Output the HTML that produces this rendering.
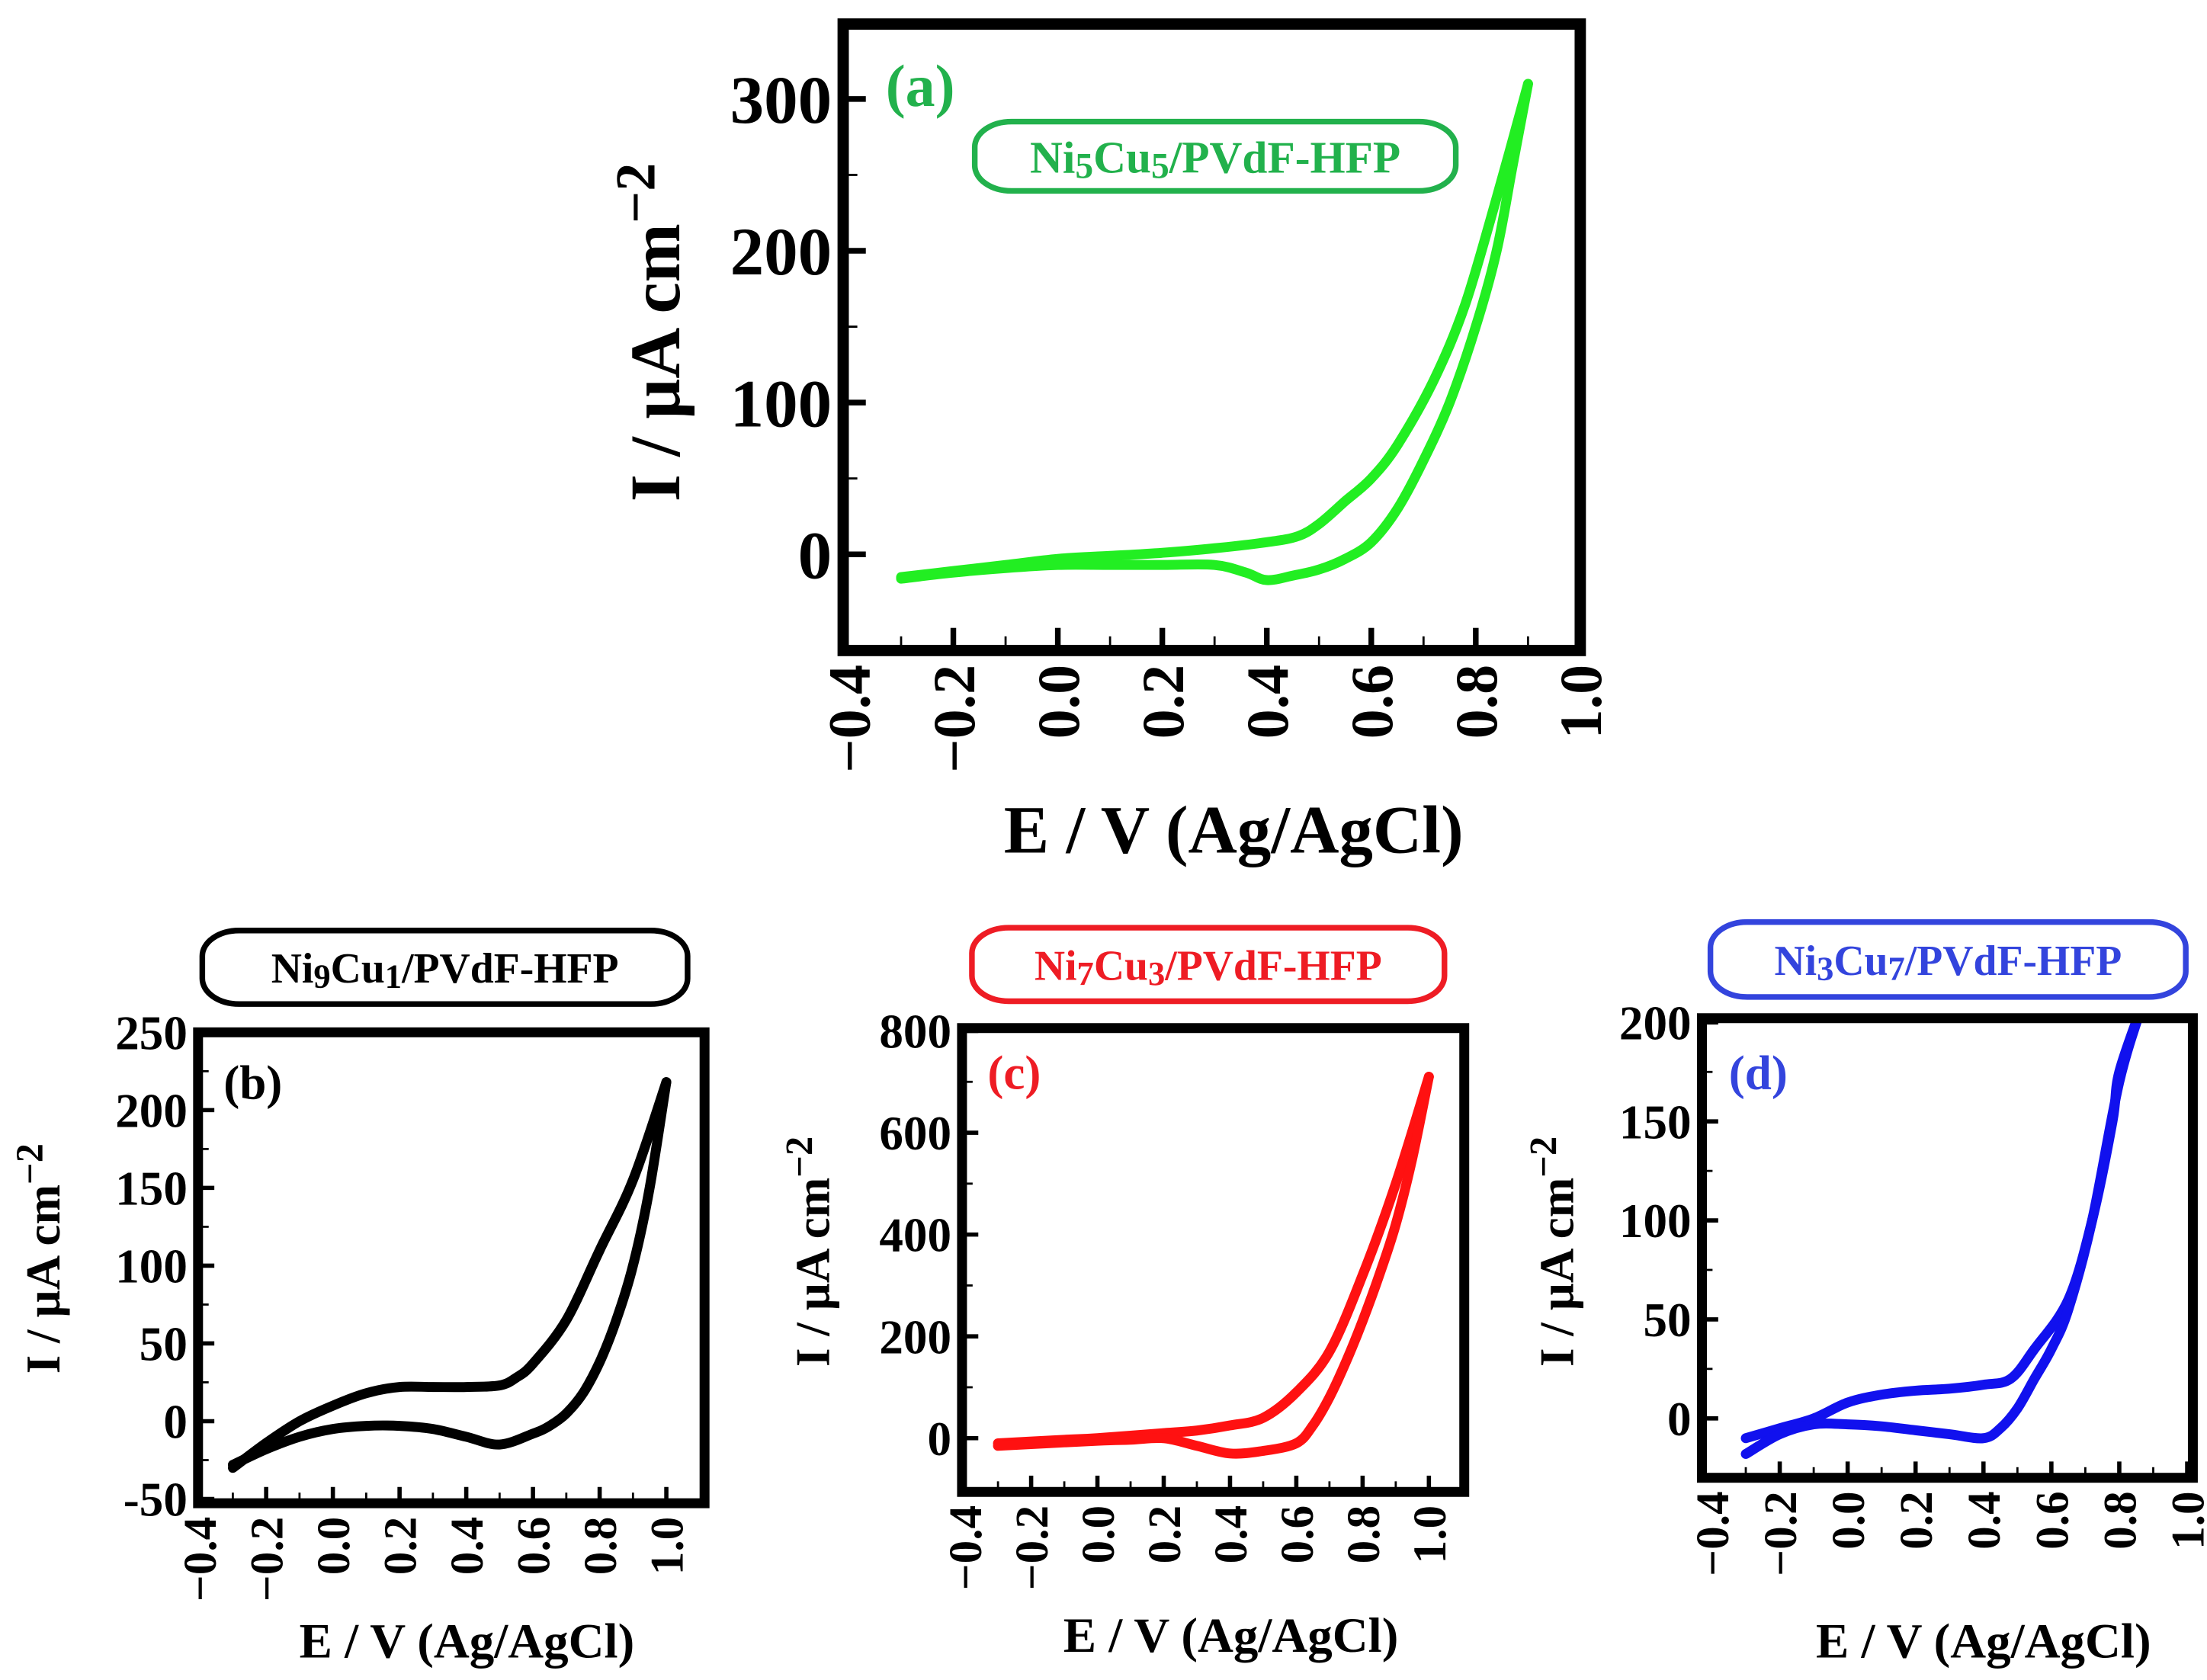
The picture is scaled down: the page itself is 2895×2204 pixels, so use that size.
<!DOCTYPE html>
<html><head><meta charset="utf-8"><style>
html,body{margin:0;padding:0;background:#fff;}
svg{display:block;font-family:"Liberation Serif",serif;font-weight:bold;}
</style></head><body>
<svg id="fig" width="2895" height="2204" viewBox="0 0 1560 1188" preserveAspectRatio="none" xmlns="http://www.w3.org/2000/svg"></svg>
<script>
// x tick values (shared)
const xTicks = [-0.4,-0.2,0.0,0.2,0.4,0.6,0.8,1.0];
const xTickLabels = ["−0.4","−0.2","0.0","0.2","0.4","0.6","0.8","1.0"];
// Panel a
const aYTicks = [0,100,200,300];
const aFwdE = [-0.3,-0.2,-0.1,0,0.1,0.2,0.3,0.4,0.46,0.5,0.55,0.6,0.65,0.72,0.78,0.84,0.9];
const aFwdI = [-15,-11,-7,-3,-1,1,4,8,12,20,35,50,72,115,165,235,310];
const aRevE = [0.9,0.87,0.84,0.8,0.75,0.7,0.65,0.6,0.55,0.5,0.45,0.4,0.36,0.3,0.2,0.1,0,-0.1,-0.2,-0.3];
const aRevI = [310,255,200,150,100,62,30,8,-3,-10,-14,-17,-12,-7,-7,-7,-7,-9,-12,-16];
// Panel b
const bYTicks = [-50,0,50,100,150,200,250];
const bFwdE = [-0.3,-0.2,-0.1,0,0.1,0.2,0.3,0.4,0.5,0.55,0.6,0.7,0.8,0.9,1.0];
const bFwdI = [-30,-14,0,10,18,22,22,22,23,28,37,65,110,155,218];
const bRevE = [1.0,0.95,0.9,0.85,0.8,0.75,0.7,0.65,0.6,0.5,0.4,0.3,0.2,0.1,0,-0.1,-0.2,-0.3];
const bRevI = [218,150,100,65,38,18,5,-3,-8,-15,-10,-5,-3,-3,-5,-10,-18,-28];
// Panel c
const cYTicks = [0,200,400,600,800];
const cFwdE = [-0.3,-0.1,0,0.2,0.3,0.4,0.5,0.6,0.7,0.8,0.9,1.0];
const cFwdI = [-10,-3,0,10,15,25,40,90,170,320,500,710];
const cRevE = [1.0,0.95,0.9,0.85,0.8,0.75,0.7,0.65,0.6,0.5,0.4,0.3,0.2,0.1,0,-0.3];
const cRevI = [710,550,420,320,230,150,80,25,-10,-25,-30,-15,0,-3,-5,-15];
// Panel d
const dYTicks = [0,50,100,150,200];
const dFwdE = [-0.3,-0.2,-0.1,0,0.1,0.2,0.3,0.4,0.48,0.55,0.65,0.72,0.78,0.8,0.87];
const dFwdI = [-10,-5,0,8,12,14,15,17,20,35,60,100,150,175,210];
const dRevE = [0.87,0.8,0.72,0.65,0.6,0.55,0.5,0.45,0.4,0.3,0.2,0.1,0,-0.1,-0.2,-0.3];
const dRevI = [210,170,100,55,35,20,5,-5,-10,-8,-6,-4,-3,-3,-8,-18];

const NS="http://www.w3.org/2000/svg";
const svg=document.getElementById('fig');
function mk(tag,attrs,parent){const e=document.createElementNS(NS,tag);for(const k in attrs)e.setAttribute(k,attrs[k]);(parent||svg).appendChild(e);return e;}
function smooth(P){
  let d='M'+P[0][0].toFixed(1)+','+P[0][1].toFixed(1);
  for(let i=0;i<P.length-1;i++){
    const p0=P[i-1]||P[i],p1=P[i],p2=P[i+1],p3=P[i+2]||P[i+1];
    const c1=[p1[0]+(p2[0]-p0[0])/6,p1[1]+(p2[1]-p0[1])/6];
    const c2=[p2[0]-(p3[0]-p1[0])/6,p2[1]-(p3[1]-p1[1])/6];
    d+=' C'+c1[0].toFixed(1)+','+c1[1].toFixed(1)+' '+c2[0].toFixed(1)+','+c2[1].toFixed(1)+' '+p2[0].toFixed(1)+','+p2[1].toFixed(1);
  }
  return d;
}

function panel(o){
  const g=mk('g',{});
  
  
  const xs=v=>o.x0+(v-(-0.4))/1.4*(o.x1-o.x0);
  const ys=v=>o.y0+(v-o.yv0)/(o.yv1-o.yv0)*(o.y1-o.y0);
  const L=o.L,T=o.T,R=o.R,B=o.B,bw=o.bw;
  const cp=mk('clipPath',{id:'clip'+o.id},g);
  mk('rect',{x:L,y:T,width:R-L,height:B-T},cp);
  const pts=(E,I)=>E.map((e,i)=>[xs(e),ys(I[i])]);
  const f=mk('path',{d:smooth(pts(o.fE,o.fI)),fill:'none',stroke:o.color,'stroke-width':o.sw,'stroke-linejoin':'round','stroke-linecap':'round','clip-path':'url(#clip'+o.id+')'},g);
  
  
  const r=mk('path',{d:smooth(pts(o.rE,o.rI)),fill:'none',stroke:o.color,'stroke-width':o.sw,'stroke-linejoin':'round','stroke-linecap':'round','clip-path':'url(#clip'+o.id+')'},g);
  
  
  const fr=mk('rect',{x:L,y:T,width:R-L,height:B-T,fill:'none',stroke:'#000','stroke-width':bw},g);
  
  
  xTicks.forEach((v,i)=>{
    const x=xs(v);
    if(i>0 && x<R-2) mk('line',{x1:x,x2:x,y1:B,y2:B-bw/2-o.tk,stroke:'#000','stroke-width':o.tw},g);
    if(i<xTicks.length-1){const xm=xs(v+0.1); if(xm<R-2) mk('line',{x1:xm,x2:xm,y1:B,y2:B-bw/2-o.tk/2,stroke:'#000','stroke-width':1.5},g);}
    const t=mk('text',{transform:'translate('+(x+o.xfs*0.35)+','+(B+bw/2+6)+') rotate(-90)','text-anchor':'end','font-size':o.xfs,fill:'#000'},g);
    t.textContent=xTickLabels[i];
    
    
  });
  o.yT.forEach((v,i)=>{
    const y=ys(v);
    mk('line',{x1:L,x2:L+bw/2+o.tk,y1:y,y2:y,stroke:'#000','stroke-width':o.tw},g);
    const step=o.yT.length>1?(o.yT[1]-o.yT[0])/2:0;
    const ym=ys(v+step); if(ym>T+2&&ym<B-2) mk('line',{x1:L,x2:L+bw/2+o.tk/2,y1:ym,y2:ym,stroke:'#000','stroke-width':1.5},g);
    const t=mk('text',{x:L-bw/2-4,y:y+o.yfs*0.35,'text-anchor':'end','font-size':o.yfs,fill:'#000'},g);
    t.textContent=String(v);
    
    
  });
  const yt=mk('text',{transform:'translate('+o.ytx+','+o.yty+') rotate(-90)','text-anchor':'middle','font-size':o.ytfs,fill:'#000'},g);
  yt.innerHTML='I / µA cm<tspan dy="-'+(o.ytfs*0.35)+'" font-size="'+(o.ytfs*0.8)+'">−2</tspan>';
  
  
  const xt=mk('text',{x:o.xtx,y:o.xty,'text-anchor':'middle','font-size':o.xtfs,fill:'#000'},g);
  xt.textContent='E / V (Ag/AgCl)';
  
  
  const pl=mk('text',{x:o.plx,y:o.ply,'font-size':o.plfs,fill:o.lc},g);
  pl.textContent='('+o.id+')';
  
  
  const lb=o.lb;
  const lg=mk('g',{},g);
  
  
  mk('rect',{x:lb[0],y:lb[1],width:lb[2]-lb[0],height:lb[3]-lb[1],rx:26,ry:18,fill:'#fff',stroke:o.lc,'stroke-width':4},lg);
  const fs=o.lfs;
  const lt=mk('text',{x:(lb[0]+lb[2])/2,y:(lb[1]+lb[3])/2+fs*0.36,'text-anchor':'middle','font-size':fs,fill:o.lc},lg);
  lt.innerHTML='Ni<tspan font-size="'+(fs*0.8)+'" dy="'+(fs*0.12)+'">'+o.n1+'</tspan><tspan dy="-'+(fs*0.12)+'">Cu</tspan><tspan font-size="'+(fs*0.8)+'" dy="'+(fs*0.12)+'">'+o.n2+'</tspan><tspan dy="-'+(fs*0.12)+'">/PVdF-HFP</tspan>';
}

panel({id:'a',color:'#22ee22',lc:'#22b14c',x0:600,x1:1117,y0:392,y1:70,yv0:0,yv1:300,L:596,T:17,R:1117,B:460,bw:8,sw:7,tk:12,tw:4,
  fE:aFwdE,fI:aFwdI,rE:aRevE,rI:aRevI,yT:aYTicks,xfs:42,yfs:48,ytx:480,yty:235,ytfs:50,xtx:872,xty:603,xtfs:48,
  plx:626,ply:75,plfs:42,lb:[689,86,1029,135],lfs:32,n1:'5',n2:'5'});
panel({id:'b',color:'#000',lc:'#000',x0:141,x1:471,y0:1005,y1:950,yv0:0,yv1:50,L:140,T:730,R:498,B:1063,bw:7,sw:7,tk:8,tw:3,
  fE:bFwdE,fI:bFwdI,rE:bRevE,rI:bRevI,yT:bYTicks,xfs:33,yfs:34,ytx:42,yty:890,ytfs:34,xtx:330,xty:1172,xtfs:35,
  plx:158,ply:777,plfs:34,lb:[143,658,486,710],lfs:30,n1:'9',n2:'1'});
panel({id:'c',color:'#ff1111',lc:'#ee1c24',x0:682,x1:1010,y0:1017,y1:945,yv0:0,yv1:200,L:680,T:727,R:1035,B:1055,bw:7,sw:7,tk:8,tw:3,
  fE:cFwdE,fI:cFwdI,rE:cRevE,rI:cRevI,yT:cYTicks,xfs:33,yfs:34,ytx:586,yty:885,ytfs:34,xtx:870,xty:1168,xtfs:35,
  plx:698,ply:770,plfs:34,lb:[687,656,1021,708],lfs:30,n1:'7',n2:'3'});
panel({id:'d',color:'#1111ee',lc:'#3344dd',x0:1210,x1:1546,y0:1003,y1:933,yv0:0,yv1:50,L:1203,T:720,R:1550,B:1045,bw:7,sw:7,tk:8,tw:3,
  fE:dFwdE,fI:dFwdI,rE:dRevE,rI:dRevI,yT:dYTicks,xfs:33,yfs:34,ytx:1112,yty:885,ytfs:34,xtx:1402,xty:1172,xtfs:35,
  plx:1222,ply:770,plfs:34,lb:[1209,652,1545,705],lfs:30,n1:'3',n2:'7'});
</script>
</body></html>
